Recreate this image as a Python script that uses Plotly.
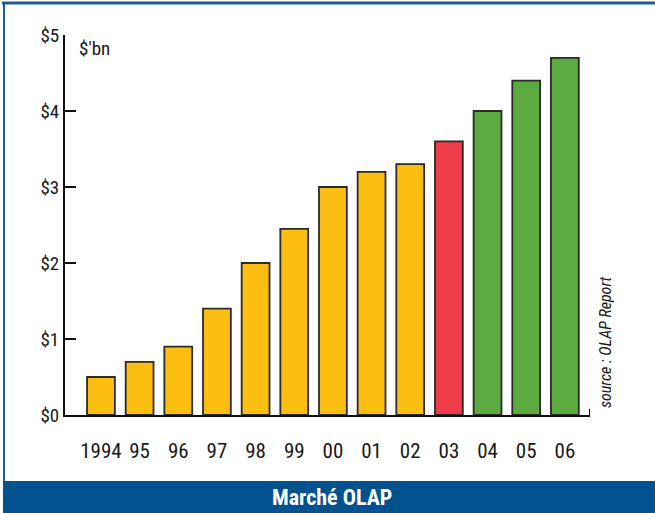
import plotly.graph_objects as go

years = ["1994", "95", "96", "97", "98", "99", "00", "01", "02", "03", "04", "05", "06"]
values = [0.5, 0.7, 0.9, 1.4, 2.0, 2.45, 3.0, 3.2, 3.3, 3.6, 4.0, 4.4, 4.7]
colors = ["#FDBE12"] * 9 + ["#EE3D48"] + ["#5BAB40"] * 3
ytick_vals = [0, 1, 2, 3, 4, 5]
ytick_text = ["$0", "$1", "$2", "$3", "$4", "$5"]

FONT = "Liberation Sans Narrow, Roboto Condensed, Arial Narrow, Roboto, sans-serif"
TXT = "#1a1718"

fig = go.Figure(go.Bar(
    x=list(range(len(years))), y=values,
    marker=dict(color=colors, line=dict(color="#2a2a2a", width=1.8)),
    width=0.72,
))

W, H = 655, 513
L, R, T, B = 65, 65, 35, 98
pw = W - L - R
ph = H - T - B

fig.update_layout(
    width=W, height=H,
    margin=dict(l=L, r=R, t=T, b=B),
    paper_bgcolor="white", plot_bgcolor="white",
    showlegend=False,
    font=dict(family=FONT, color=TXT),
    xaxis=dict(
        range=[-0.93, 12.65],
        tickmode="array", tickvals=list(range(len(years))), ticktext=years,
        ticks="", showgrid=False, zeroline=False,
        showline=True, linecolor="#111", linewidth=2,
        tickfont=dict(size=21, family=FONT, color=TXT),
        ticklabelstandoff=16,
    ),
    yaxis=dict(
        range=[0, 5],
        tickmode="array", tickvals=ytick_vals, ticktext=ytick_text,
        ticks="inside", ticklen=11, tickwidth=2, tickcolor="#111",
        showgrid=False, zeroline=False,
        showline=True, linecolor="#111", linewidth=2,
        tickfont=dict(size=19, family=FONT, color=TXT),
    ),
)

shapes = [
    # right end tick of x axis
    dict(type="line", xref="x", yref="paper", x0=12.65, x1=12.65, y0=0, y1=0.016,
         line=dict(color="#111", width=2)),
    # outer frame top and left
    dict(type="line", xref="paper", yref="paper",
         x0=-(L - 2) / pw, x1=(W - L) / pw + 0.01,
         y0=1 + (T - 3) / ph, y1=1 + (T - 3) / ph,
         line=dict(color="#1E5D96", width=3)),
    dict(type="line", xref="paper", yref="paper",
         x0=-(L - 4) / pw, x1=-(L - 4) / pw,
         y0=1 + (T - 3) / ph, y1=1 - (481 - T) / ph,
         line=dict(color="#1E5D96", width=2)),
    # bottom title bar
    dict(type="rect", xref="paper", yref="paper", layer="above",
         x0=-(L - 3) / pw, x1=(W - L) / pw + 0.01,
         y0=1 - (H - T) / ph - 0.01, y1=1 - (481 - T) / ph,
         fillcolor="#03528E", line=dict(width=0)),
]
fig.update_layout(shapes=shapes)

fig.add_annotation(x=(77 - L) / pw, y=1 - (48 - T) / ph, xref="paper", yref="paper",
                   text="$'bn", showarrow=False, xanchor="left", yanchor="middle",
                   font=dict(size=19, family=FONT, color=TXT))
fig.add_annotation(x=(605 - L) / pw, y=1 - (342 - T) / ph, xref="paper", yref="paper",
                   text="<i>source : OLAP Report</i>", textangle=-90,
                   showarrow=False, xanchor="center", yanchor="middle",
                   font=dict(size=16, family=FONT, color=TXT))
fig.add_annotation(x=(332 - L) / pw, y=1 - (497 - T) / ph, xref="paper", yref="paper",
                   text="<b>Marché OLAP</b>",
                   showarrow=False, xanchor="center", yanchor="middle",
                   font=dict(size=22, family=FONT, color="white"))

fig.write_html("out.html")
